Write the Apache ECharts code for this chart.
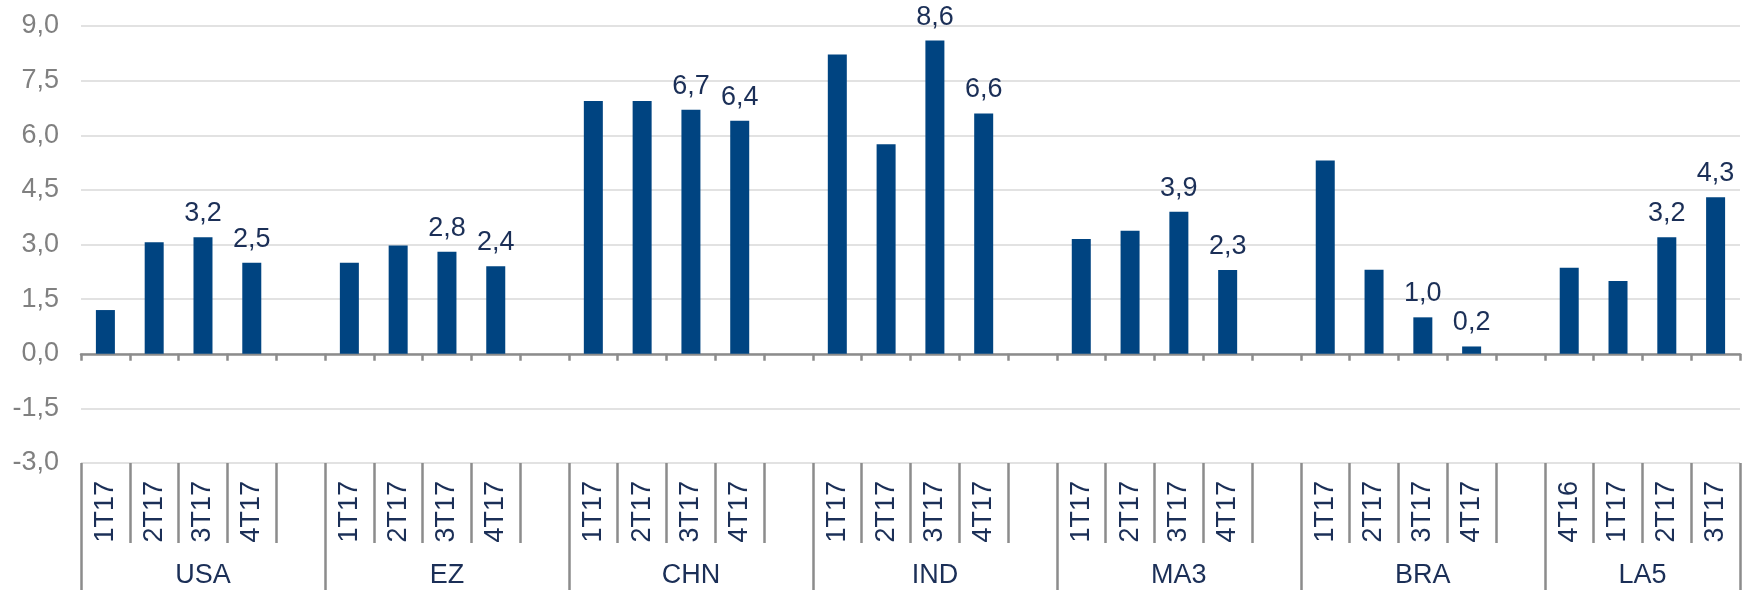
<!DOCTYPE html>
<html>
<head>
<meta charset="utf-8">
<title>PIB trimestral por región</title>
<script src="https://cdn.jsdelivr.net/npm/echarts@6/dist/echarts.min.js"></script>
<style>
  html, body { margin: 0; padding: 0; background: #ffffff; }
  #chart { width: 1747px; height: 590px; }
</style>
</head>
<body>
<div id="chart"></div>
<script>
// Regions and their quarters
const groups = ['USA', 'EZ', 'CHN', 'IND', 'MA3', 'BRA', 'LA5'];
const quarters = [
  ['1T17', '2T17', '3T17', '4T17'],
  ['1T17', '2T17', '3T17', '4T17'],
  ['1T17', '2T17', '3T17', '4T17'],
  ['1T17', '2T17', '3T17', '4T17'],
  ['1T17', '2T17', '3T17', '4T17'],
  ['1T17', '2T17', '3T17', '4T17'],
  ['4T16', '1T17', '2T17', '3T17']
];

// Growth per region, one value per quarter
const usa = [1.2, 3.06, 3.2, 2.5];
const ez  = [2.5, 2.97, 2.8, 2.4];
const chn = [6.94, 6.94, 6.7, 6.4];
const ind = [8.22, 5.75, 8.6, 6.6];
const ma3 = [3.15, 3.38, 3.9, 2.3];
const bra = [5.31, 2.31, 1.0, 0.2];
const la5 = [2.36, 2.0, 3.2, 4.3];
const groupValues = [usa, ez, chn, ind, ma3, bra, la5];

// Quarters whose value is printed above the bar (position within each region)
const labelledQuarters = [2, 3];

// Value axis ticks
const yMin = -3, yMax = 9, yStep = 1.5;

const NAVY = '#1b2f57';
const BAR = '#004481';
const AXIS_GREY = '#8c8c8c';
const FONT = "'Liberation Sans', Arial, sans-serif";
const FS = 27;

const fmt = v => Number(v).toFixed(1).replace('.', ',');

// Flatten regions into slots, with an empty slot between regions
const categories = [];
const barData = [];
const groupStart = [];
const groupEnd = [];
groups.forEach((g, gi) => {
  groupStart.push(categories.length);
  quarters[gi].forEach((q, qi) => {
    categories.push(q);
    barData.push({
      value: groupValues[gi][qi],
      label: { show: labelledQuarters.indexOf(qi) >= 0 }
    });
  });
  if (gi < groups.length - 1) {
    categories.push('');
    barData.push('-');
  }
  groupEnd.push(categories.length);
});
const slotCount = categories.length;
const groupBounds = [0].concat(groupEnd);
const groupCenters = groupStart.map((s, i) =>
  i < groups.length - 1 ? s + (groupEnd[i] - s) / 2 : s + quarters[i].length / 2);

const chart = echarts.init(document.getElementById('chart'), null, { renderer: 'canvas' });

chart.setOption({
  animation: false,
  backgroundColor: '#ffffff',
  textStyle: { fontFamily: FONT },
  grid: { left: 81, right: 7, top: 26, bottom: 127, containLabel: false },
  xAxis: [
    {
      // zero line with short ticks, carries the bars
      type: 'category',
      data: categories,
      position: 'bottom',
      axisLine: { onZero: true, lineStyle: { color: AXIS_GREY, width: 2.5 } },
      axisTick: { show: true, interval: 0, length: 7, lineStyle: { color: AXIS_GREY, width: 2.5 } },
      axisLabel: { show: false },
      splitLine: { show: false }
    },
    {
      // quarter labels below the plot
      type: 'category',
      data: categories,
      position: 'bottom',
      axisLine: { show: false, onZero: false },
      axisTick: { show: true, interval: 0, length: 80, lineStyle: { color: AXIS_GREY, width: 2.5 } },
      axisLabel: {
        show: true, interval: 0, rotate: 90, margin: 18,
        color: NAVY, fontSize: FS, fontFamily: FONT
      },
      splitLine: { show: false }
    },
    {
      // region labels and region separators
      type: 'value',
      min: 0,
      max: slotCount,
      position: 'bottom',
      axisLine: { show: false, onZero: false },
      axisTick: {
        show: true, length: 127, customValues: groupBounds,
        lineStyle: { color: AXIS_GREY, width: 2.5 }
      },
      axisLabel: {
        show: true, margin: 99, customValues: groupCenters,
        color: NAVY, fontSize: FS, fontFamily: FONT,
        formatter: v => {
          const i = groupCenters.findIndex(c => Math.abs(c - v) < 1e-6);
          return i >= 0 ? groups[i] : '';
        }
      },
      splitLine: { show: false }
    }
  ],
  yAxis: {
    type: 'value',
    min: yMin,
    max: yMax,
    interval: yStep,
    axisLine: { show: false },
    axisTick: { show: false },
    axisLabel: {
      margin: 22, color: '#808080', fontSize: FS, fontFamily: FONT,
      formatter: fmt
    },
    splitLine: { show: true, lineStyle: { color: '#d9d9d9', width: 1.5 } }
  },
  series: [
    {
      type: 'bar',
      xAxisIndex: 0,
      data: barData,
      barWidth: 19,
      itemStyle: { color: BAR },
      label: {
        show: false,
        position: 'top',
        distance: 10,
        color: NAVY,
        fontSize: FS,
        fontFamily: FONT,
        formatter: p => fmt(p.value)
      }
    }
  ]
});
</script>
</body>
</html>
